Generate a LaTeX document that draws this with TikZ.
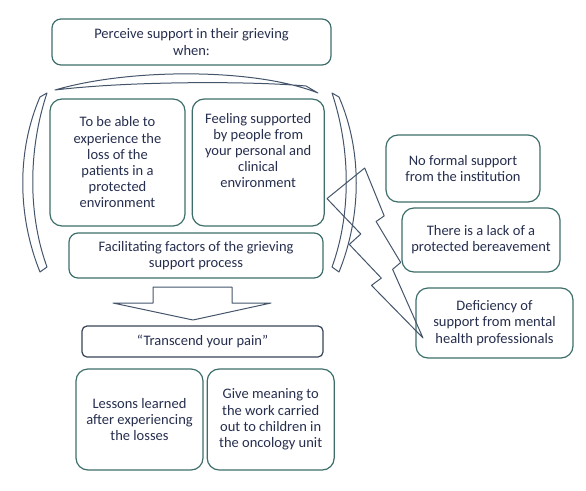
\documentclass[tikz,border=0pt]{standalone}
\usepackage{fontspec}
\setmainfont{Carlito}
\usetikzlibrary{positioning}
\definecolor{boxline}{RGB}{62,110,106}
\definecolor{txtcol}{RGB}{38,46,78}
\definecolor{slate}{RGB}{68,84,106}

\begin{document}
\begin{tikzpicture}[
    x=1pt, y=-1pt,
    font=\fontsize{14.5}{16.2}\selectfont,
    % Node styles
    box/.style={draw=boxline, line width=1.2pt, rounded corners=12pt, align=center, text=txtcol, inner sep=2pt},
    darkbox/.style={draw=slate!80!black, line width=1.2pt, rounded corners=5pt, align=center, text=txtcol},
    shapeline/.style={draw=slate, line width=1pt, line join=round},
]
\useasboundingbox (0,0) rectangle (586,490);

    % Upper group
    \node[box, rounded corners=9pt, minimum width=279pt, minimum height=46pt] (perceive) at (191.5,42)
        {Perceive support in their grieving\\when:};
    \node[box, minimum width=135pt, minimum height=127pt] (protected) at (117.5,162.5)
        {To be able to\\experience the\\loss of the\\patients in a\\protected\\environment};
    \node[box, minimum width=132pt, minimum height=127pt, right=6pt of protected] (feeling) {};
    \node[text=txtcol, align=center, below=11pt of feeling.north] (feelingtxt)
        {Feeling supported\\by people from\\your personal and\\clinical\\environment};
    \node[box, rounded corners=9pt, minimum width=254pt, minimum height=45pt] (factors) at (196,255.5)
        {Facilitating factors of the grieving\\support process};

    % Brackets round the group
    \draw[shapeline] (55,90) .. controls (130,68) and (255,68) .. (318,93)
        -- (306,86) .. controls (250,81) and (130,81) .. (55,90) -- cycle;
    \draw[shapeline] (40,97) .. controls (17,150) and (17,215) .. (40,272)
        -- (47,267) .. controls (28,215) and (28,150) .. (47,93) -- cycle;
    \draw[shapeline] (339,97) .. controls (362,150) and (362,215) .. (339,272)
        -- (332,267) .. controls (351,215) and (351,150) .. (332,93) -- cycle;

    % Barriers
    \node[box, minimum width=154pt, minimum height=67pt] (noformal) at (463,168.5)
        {No formal support\\from the institution};
    \node[box, minimum width=158pt, minimum height=64pt] (lack) at (481,240)
        {There is a lack of a\\protected bereavement};
    \node[box, minimum width=157pt, minimum height=70pt] (deficiency) at (494.5,323)
        {Deficiency of\\support from mental\\health professionals};

    % Lightning bolt
    \draw[shapeline] (364.7,168) -- (384.2,215.9) -- (376.1,221.5) -- (400.7,262.5)
        -- (392.6,269.3) -- (423,338) -- (371.5,285.4) -- (381.3,278.1)
        -- (349.3,244.4) -- (360.8,234) -- (327,198.6) -- cycle;

    % Block arrow
    \draw[shapeline] (153,287) -- (232,287) -- (232,303) -- (271,303) -- (193,320)
        -- (113,303) -- (153,303) -- cycle;

    % Lower group
    \node[darkbox, minimum width=241pt, minimum height=31pt] (transcend) at (202.5,341.5)
        {“Transcend your pain”};
    \node[box, minimum width=127pt, minimum height=101pt] (lessons) at (139.5,419.5)
        {Lessons learned\\after experiencing\\the losses};
    \node[box, minimum width=127pt, minimum height=101pt, right=3pt of lessons] (meaning)
        {Give meaning to\\the work carried\\out to children in\\the oncology unit};

\end{tikzpicture}
\end{document}
